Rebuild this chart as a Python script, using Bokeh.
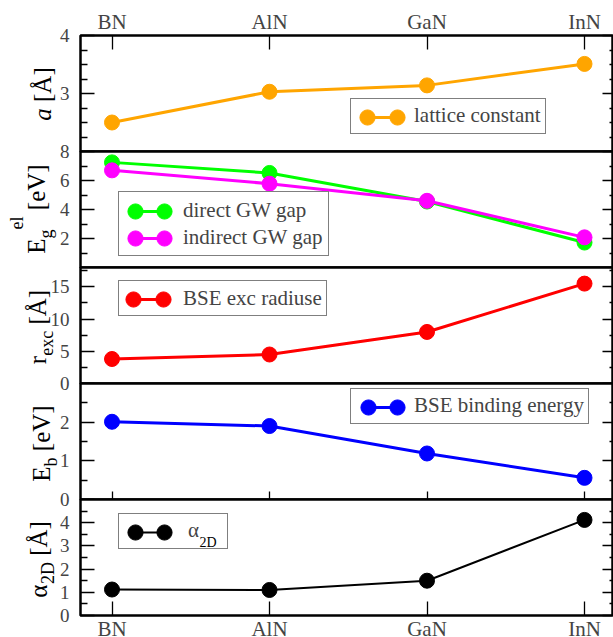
import math
from bokeh.plotting import figure
from bokeh.models import Range1d, LinearAxis, FixedTicker, Label, Legend, LegendItem
from bokeh.layouts import column, row
from bokeh.core.properties import value
from bokeh.embed import file_html
from bokeh.resources import INLINE

# ---------------- data ----------------
materials = ["BN", "AlN", "GaN", "InN"]
xpos = [1, 2, 3, 4]
lattice_constant = [2.50, 3.03, 3.14, 3.51]
gw_gap_direct = [7.25, 6.52, 4.55, 1.72]
gw_gap_indirect = [6.70, 5.78, 4.60, 2.08]
bse_exc_radius = [3.8, 4.5, 8.0, 15.5]
bse_binding_energy = [2.01, 1.90, 1.19, 0.56]
alpha_2d = [1.12, 1.10, 1.50, 4.12]

# ticks of each panel
a_major = [3, 4]
a_minor = [2.25, 2.5, 2.75, 3.25, 3.5, 3.75]
eg_major = [2, 4, 6, 8]
eg_minor = [1, 3, 5, 7]
r_major = [0, 5, 10, 15]
r_minor = [2.5, 7.5, 12.5, 17.5]
eb_major = [0, 1, 2]
eb_minor = [0.5, 1.5, 2.5]
al_major = [0, 1, 2, 3, 4]
al_minor = [0.5, 1.5, 2.5, 3.5, 4.5]

FONT = "Liberation Serif"
PAGE_H = 637
LAB_W = 70               # width of the strip holding the y-axis titles
FRAME_LEFT = 80
FRAME_W = 533
FRAME_TOPS = [35, 151, 267, 383, 499]
FH = 116
X0, X1 = 0.8, 0.8 + FRAME_W / 157.5

W = {'a': 0.5, 'E': 0.611, 'g': 0.5, 'e': 0.444, 'l': 0.278, '[': 0.333, ']': 0.333,
     'V': 0.722, 'r': 0.333, 'x': 0.5, 'c': 0.444, 'b': 0.5, 'Å': 0.722, 'α': 0.55,
     '2': 0.5, 'D': 0.722, ' ': 0.25}


def twidth(t, s):
    return sum(W.get(ch, 0.5) for ch in t) * s


def make_panel(y0, y1, major, minor, top_border=12, bottom_border=12):
    p = figure(frame_width=FRAME_W, frame_height=FH,
               x_range=Range1d(X0, X1), y_range=Range1d(y0, y1),
               x_axis_location=None, y_axis_location=None,
               toolbar_location=None, output_backend="svg",
               min_border_left=FRAME_LEFT, min_border_right=0,
               min_border_top=top_border, min_border_bottom=bottom_border)
    p.outline_line_color = "black"
    p.outline_line_width = 2.5
    p.border_fill_alpha = 0
    p.background_fill_color = "white"
    p.grid.visible = False
    left = LinearAxis(ticker=FixedTicker(ticks=major, minor_ticks=minor),
                      axis_line_color=None,
                      major_tick_in=14, major_tick_out=0,
                      minor_tick_in=7, minor_tick_out=0,
                      major_tick_line_width=1.3, minor_tick_line_width=1.3,
                      major_label_text_font=FONT, major_label_text_font_size="19px",
                      major_label_standoff=11)
    p.add_layout(left, "left")
    right = LinearAxis(ticker=FixedTicker(ticks=major, minor_ticks=minor),
                       axis_line_color=None,
                       major_tick_in=11, major_tick_out=0,
                       minor_tick_in=4, minor_tick_out=0,
                       major_tick_line_width=1.3, minor_tick_line_width=1.3,
                       major_label_text_font_size="0px", major_label_standoff=0)
    p.add_layout(right, "right")
    return p


def cat_axis(tick_in, labels=True, standoff=5):
    return LinearAxis(ticker=FixedTicker(ticks=xpos, minor_ticks=[]),
                      major_label_overrides={x: m for x, m in zip(xpos, materials)},
                      axis_line_color=None,
                      major_tick_in=tick_in, major_tick_out=0,
                      minor_tick_in=0, minor_tick_out=0,
                      major_tick_line_width=1.3,
                      major_label_text_font=FONT,
                      major_label_text_font_size="21px" if labels else "0px",
                      major_label_standoff=standoff if labels else 0)


def frame_label(p, k, px, py, t, s, italic=False):
    """annotation text placed in screen px relative to the panel's frame"""
    fb = FRAME_TOPS[k] + FH
    p.add_layout(Label(x=px - FRAME_LEFT, y=fb - py, x_units="screen", y_units="screen",
                       text=t, text_font=FONT, text_font_size=f"{s}px",
                       text_font_style="italic" if italic else "normal",
                       text_align="left", text_baseline="alphabetic",
                       text_color="black"))


def legend_block(p, k, series, box_left, row_center0, row_pitch, m1, m2,
                 text_start, pad=4, label_width=20, bg=1.0):
    fb = FRAME_TOPS[k] + FH
    n = len(series)
    row_h = 26
    spacing = row_pitch - row_h
    box_h = 2 * pad + n * row_h + (n - 1) * spacing
    box_bottom = row_center0 - row_h / 2 - pad + box_h
    gw = text_start - box_left - pad
    a = Legend(items=[LegendItem(label=value(lab), renderers=[dm]) for lab, ln, sc, dm in series],
               location=(box_left - FRAME_LEFT, fb - box_bottom),
               orientation="vertical", padding=pad, spacing=spacing, margin=0,
               glyph_width=int(round(gw)), glyph_height=row_h,
               label_standoff=0, label_width=label_width, label_height=20,
               label_text_font=FONT, label_text_font_size="21px",
               border_line_color="black", border_line_width=1.3,
               background_fill_color="white", background_fill_alpha=bg)
    p.add_layout(a)
    c = Legend(items=[LegendItem(label=value(""), renderers=[ln]) for lab, ln, sc, dm in series],
               location=(m1 - FRAME_LEFT, fb - (row_center0 - row_h / 2 + n * row_h + (n - 1) * spacing)),
               orientation="vertical", padding=0, spacing=spacing, margin=0,
               glyph_width=int(round(m2 - m1)), glyph_height=row_h,
               label_standoff=0, label_width=0, label_height=0,
               border_line_color=None, background_fill_alpha=0)
    p.add_layout(c)
    for i, (lab, ln, sc, dm) in enumerate(series):
        rc = row_center0 + i * row_pitch
        for m in (m1, m2):
            b = Legend(items=[LegendItem(label=value(""), renderers=[sc])],
                       location=(m - 19 - FRAME_LEFT, fb - (rc + 19)),
                       orientation="vertical", padding=0, spacing=0, margin=0,
                       glyph_width=38, glyph_height=38,
                       label_standoff=0, label_width=0, label_height=0,
                       border_line_color=None, background_fill_alpha=0)
            p.add_layout(b)


def series(p, y, color, lw=3):
    ln = p.line(xpos, y, line_color=color, line_width=lw)
    sc = p.scatter(xpos, y, size=15, fill_color=color, line_color=color)
    dm = p.line(xpos, y, line_alpha=0)
    return ln, sc, dm


# ---------------- strip with the y-axis titles (page pixel coordinates) ----------------
lab = figure(width=LAB_W, height=PAGE_H, x_range=Range1d(0, LAB_W), y_range=Range1d(0, PAGE_H),
             x_axis_location=None, y_axis_location=None, toolbar_location=None,
             output_backend="svg", min_border=0)
lab.outline_line_color = None
lab.background_fill_alpha = 0
lab.border_fill_alpha = 0
lab.grid.visible = False


def y_title(pieces, center_y, base_x):
    total = sum(twidth(t, s) for t, s, dx, it in pieces)
    cursor = center_y + total / 2.0
    for t, s, dx, it in pieces:
        if t.strip():
            lab.add_layout(Label(x=base_x + dx, y=PAGE_H - cursor, text=t,
                                 angle=math.pi / 2, text_font=FONT, text_font_size=f"{s}px",
                                 text_font_style="italic" if it else "normal",
                                 text_align="left", text_baseline="alphabetic",
                                 text_color="black"))
        cursor -= twidth(t, s)


y_title([("a", 25, 0, True), (" ", 25, 0, False), ("[Å]", 25, 0, False)], 93.5, 42)
y_title([("E", 25, 0, False), ("g", 18, 9, False), ("el", 18, -20, False),
         (" ", 25, 0, False), ("[eV]", 25, 0, False)], 208.5, 36)
y_title([("r", 25, 0, False), ("exc", 18, 9, False), (" ", 25, 0, False),
         ("[Å]", 25, 0, False)], 326.5, 37)
y_title([("E", 25, 0, False), ("b", 18, 9, False), (" ", 25, 0, False),
         ("[eV]", 25, 0, False)], 443, 41)
y_title([("α", 25, 0, False), ("2D", 18, 9, False), (" ", 25, 0, False),
         ("[Å]", 25, 0, False)], 559, 38)

# ---------------- panel 1 : lattice constant ----------------
p1 = make_panel(2, 4, a_major, a_minor, top_border=35)
p1.add_layout(cat_axis(14, True, 2), "above")
ln, sc, dm = series(p1, lattice_constant, "#FFA500")
legend_block(p1, 0, [("lattice constant", ln, sc, dm)], 350, 116.5, 27, 367, 397, 413)

# ---------------- panel 2 : GW gaps ----------------
p2 = make_panel(0, 8, eg_major, eg_minor)
g1 = series(p2, gw_gap_direct, "#00FF00")
g2 = series(p2, gw_gap_indirect, "#FF00FF")
legend_block(p2, 1, [("direct GW gap",) + g1, ("indirect GW gap",) + g2],
             118, 211, 27, 135, 164, 182, pad=5)

# ---------------- panel 3 : exciton radius ----------------
p3 = make_panel(0, 18, r_major, r_minor)
ln, sc, dm = series(p3, bse_exc_radius, "#FF0000")
legend_block(p3, 2, [("BSE exc radiuse", ln, sc, dm)], 118, 299.3, 27, 133.3, 163.3, 182)

# ---------------- panel 4 : binding energy ----------------
p4 = make_panel(0, 3, eb_major, eb_minor)
p4.add_layout(cat_axis(8, False), "below")
ln, sc, dm = series(p4, bse_binding_energy, "#0000FF")
legend_block(p4, 3, [("BSE binding energy", ln, sc, dm)], 350, 406.7, 27, 368.3, 397.3, 413)

# ---------------- panel 5 : polarizability ----------------
p5 = make_panel(0, 5, al_major, al_minor, bottom_border=22)
p5.add_layout(cat_axis(14, True, 1), "below")
ln, sc, dm = series(p5, alpha_2d, "black", lw=2)
frame_label(p5, 4, 199, 542, "2D", 14)
legend_block(p5, 4, [("α", ln, sc, dm)], 118, 531.7, 27, 135, 164, 187, label_width=35, bg=0)

for q in (p2, p3, p4, p5):
    q.margin = (-24, 0, 0, 0)

panels = column(p1, p2, p3, p4, p5)
panels.margin = (0, 0, 0, -LAB_W)
layout = row(lab, panels)
open("out.html", "w").write(file_html(layout, INLINE))
